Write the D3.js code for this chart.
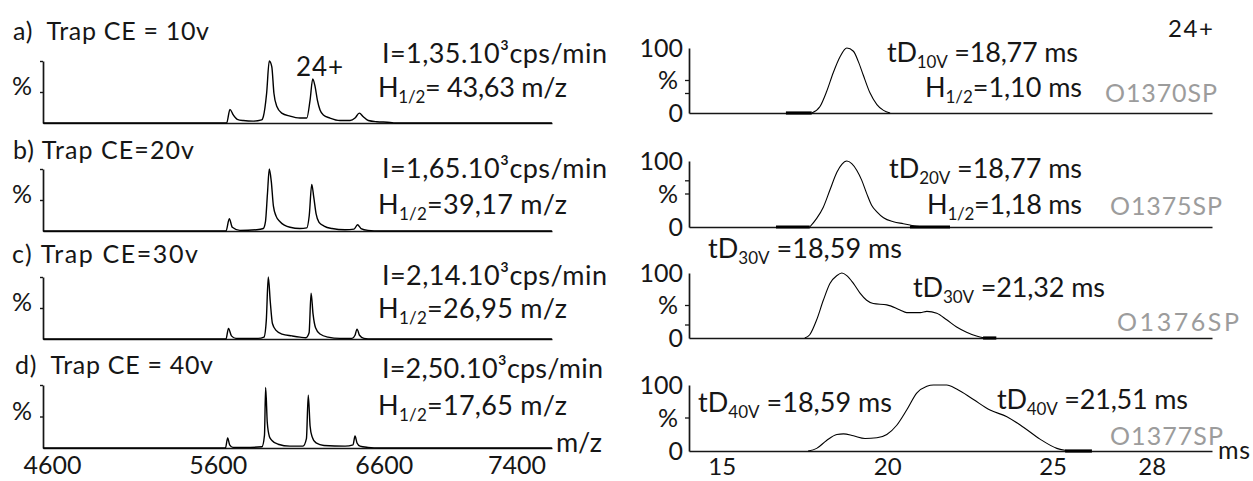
<!DOCTYPE html>
<html><head><meta charset="utf-8">
<script src="https://cdn.jsdelivr.net/npm/d3@7"></script>
<style>
html,body{margin:0;padding:0;background:#fff;}
svg{display:block;font-family:Lato,"Open Sans",sans-serif;}
text{white-space:pre;}
</style></head><body>
<svg id="chart" width="1253" height="481"></svg>
<script>
// ---------- DATA ----------
const ceTitles = ["a)  Trap CE = 10v", "b) Trap CE=20v", "c) Trap CE=30v", "d)  Trap CE = 40v"];
const intensities = ["1,35", "1,65", "2,14", "2,50"];           // x10^3 cps/min
const fwhmMz = ["= 43,63 m/z", "=39,17 m/z", "=26,95 m/z", "=17,65 m/z"];
const mzTicks = [4600, 5600, 6600, 7400];
const driftTicks = [15, 20, 25, 28];
const runIds = ["O1370SP", "O1375SP", "O1376SP", "O1377SP"];
const driftSubs = [["10V"], ["20V"], ["30V", "30V"], ["40V", "40V"]];
const driftValues = [["18,77"], ["18,77"], ["18,59", "21,32"], ["18,59", "21,51"]];
const fwhmDrift = ["1,10", "1,18"];

// mass spectra [m/z, %]
const spectrumA = [[4546,0],[5653,0],[5673,22],[5693,13],[5717,6],[5753,4],[5814,3],[5864,5],[5874,10],[5894,48],[5910,100],[5925,91],[5938,48],[5955,27],[5985,16],[6035,11],[6095,8],[6136,8],[6156,37],[6172,71],[6186,59],[6200,37],[6216,21],[6236,13],[6276,8],[6336,4],[6397,4],[6427,8],[6453,16],[6477,10],[6507,4],[6558,2],[6638,1],[6668,0],[7614,0]];
const spectrumB = [[4546,0],[5649,0],[5669,20],[5687,6],[5733,1],[5834,2],[5874,4],[5887,15],[5899,60],[5910,100],[5922,80],[5935,40],[5951,24],[5975,15],[6035,6],[6095,4],[6136,5],[6151,25],[6166,75],[6178,55],[6192,28],[6210,14],[6240,8],[6288,4],[6367,2],[6421,3],[6442,10],[6463,4],[6505,1],[6578,0],[7614,0]];
const spectrumC = [[4546,0],[5649,0],[5664,17],[5682,5],[5709,1],[5842,1],[5878,3],[5892,30],[5904,100],[5916,60],[5929,25],[5951,14],[5987,8],[6047,5],[6095,3],[6131,2],[6150,10],[6162,74],[6174,40],[6189,18],[6216,8],[6264,3],[6336,1],[6409,1],[6427,6],[6439,16],[6454,6],[6481,1],[6529,0],[7614,0]];
const spectrumD = [[4546,0],[5646,0],[5659,16],[5671,5],[5691,1],[5794,1],[5866,2],[5881,20],[5888,96],[5898,40],[5911,18],[5926,12],[5963,6],[6035,3],[6113,3],[6134,15],[6145,84],[6156,35],[6168,18],[6192,8],[6240,4],[6367,3],[6415,5],[6427,19],[6439,8],[6457,3],[6505,1],[6578,0],[7614,0]];

// arrival time distributions [ms, %]
const driftA = [[17.72,0],[17.97,10],[18.17,33],[18.37,62],[18.58,87],[18.78,100],[18.98,95],[19.13,79],[19.28,58],[19.48,31],[19.69,13],[19.89,4],[20.09,0]];
const driftB = [[17.66,0],[17.87,13],[18.07,30],[18.27,56],[18.48,83],[18.63,95],[18.78,100],[18.93,96],[19.08,86],[19.23,71],[19.38,51],[19.53,33],[19.69,23],[19.89,14],[20.19,8],[20.49,5],[20.69,3],[20.9,1],[21.1,0]];
const driftC = [[17.51,0],[17.66,5],[17.87,28],[18.07,58],[18.27,84],[18.48,96],[18.63,100],[18.78,96],[18.98,84],[19.18,69],[19.38,58],[19.58,53],[19.99,51],[20.39,43],[20.59,39],[21.0,39],[21.2,41],[21.5,38],[21.8,28],[22.1,17],[22.4,9],[22.7,3],[22.95,0]];
const driftD = [[17.61,0],[17.87,4],[18.17,16],[18.48,25],[18.68,26],[18.98,23],[19.33,19],[19.69,20],[19.99,25],[20.29,39],[20.59,62],[20.9,88],[21.2,98],[21.4,100],[21.8,100],[22.1,94],[22.61,78],[23.11,62],[23.62,52],[24.12,36],[24.62,18],[25.13,4],[25.38,1],[25.5,0]];
const noiseSegments = [[[16.94,17.72]], [[16.64,17.66],[20.69,21.9]], [[22.9,23.3]], [[25.38,26.19]]];

// ---------- LAYOUT ----------
const svg = d3.select("#chart");
const INK = "#161616", GRAY = "#9c9c9c";
const spectra = [spectrumA, spectrumB, spectrumC, spectrumD];
const drifts = [driftA, driftB, driftC, driftD];

const xMz = d3.scaleLinear().domain([4545.6, 7614.7]).range([43, 552]);
const xMs = d3.scaleLinear().domain([14.01, 29.82]).range([689, 1212]);

const leftTop = [61, 169, 277, 385], leftBase = [123, 231, 339, 448];
const rightTop = [48, 161, 273, 385], rightBase = [113, 227, 338, 451];
const rightMinor = [30, 70, 20, null];

const titlePos = [[13,40,196],[13,159,181],[12,263,186],[15,374,198]];
const iPos = [[382,63,225],[382,178,225],[382,285,225],[382,378,221]];
const hPos = [[378,97,189],[378,214,189],[378,318,189],[378,415,189]];
const tdPos = [[[887,62,191]], [[889,178,193]], [[708,258,194],[913,297,192]], [[698,412,194],[997,409,191]]];
const hDriftPos = [[925,97,157],[927,214,155]];
const runPos = [[1105,102,112],[1110,215,112],[1117,331,122],[1110,445,113]];

function rich(x, y, parts, size, width, fill) {
  const t = svg.append("text").attr("x", x).attr("y", y)
    .attr("font-size", size).attr("fill", fill || INK);
  let shift = 0;
  parts.forEach(p => {
    const target = p.sub ? 6 : 0;
    t.append("tspan").attr("dy", target - shift)
      .attr("font-size", p.sub ? 17 : null).text(p.t);
    shift = target;
  });
  if (width) t.attr("textLength", width).attr("lengthAdjust", "spacing");
  return t;
}

function styleAxis(g, size) {
  g.attr("font-family", null).attr("font-size", null);
  g.select(".domain").attr("stroke", INK).attr("stroke-width", 1.7);
  g.selectAll(".tick line").attr("stroke", INK).attr("stroke-width", 1.4);
  g.selectAll(".tick text").attr("fill", INK).attr("font-size", size);
}

const line = d3.line().curve(d3.curveMonotoneX);

for (let i = 0; i < 4; i++) {
  // ----- left: mass spectrum -----
  const y = d3.scaleLinear().domain([0, 100]).range([leftBase[i], leftTop[i]]);
  const gx = svg.append("g").attr("transform", `translate(0,${leftBase[i]})`)
    .call(d3.axisBottom(xMz).tickValues(i === 3 ? mzTicks : []).tickFormat(d3.format("d"))
      .tickSize(0).tickSizeOuter(0).tickPadding(8));
  styleAxis(gx, 25);
  const gy = svg.append("g").attr("transform", "translate(43,0)")
    .call(d3.axisLeft(y).tickValues([50, 100]).tickSize(3).tickSizeOuter(0).tickPadding(8)
      .tickFormat(d => d === 50 ? "%" : ""));
  styleAxis(gy, 25);
  gy.selectAll(".tick text").attr("dy", "0.1em");

  svg.append("path").datum(spectra[i])
    .attr("d", line.x(d => xMz(d[0])).y(d => y(d[1])))
    .attr("fill", "none").attr("stroke", "#000").attr("stroke-width", 1.4);

  rich(titlePos[i][0], titlePos[i][1], [{t: ceTitles[i]}], 25, titlePos[i][2]);
  rich(iPos[i][0], iPos[i][1], [{t: "I=" + intensities[i] + ".10³cps/min"}], 27, iPos[i][2]);
  rich(hPos[i][0], hPos[i][1], [{t: "H"}, {t: "1/2", sub: true}, {t: fwhmMz[i]}], 27, hPos[i][2]);

  // ----- right: drift time distribution -----
  const yr = d3.scaleLinear().domain([0, 100]).range([rightBase[i], rightTop[i]]);
  const rx = svg.append("g").attr("transform", `translate(0,${rightBase[i]})`)
    .call(d3.axisBottom(xMs).tickValues(i === 3 ? driftTicks : []).tickFormat(d3.format("d"))
      .tickSize(0).tickSizeOuter(0).tickPadding(7));
  styleAxis(rx, 24);
  const ry = svg.append("g").attr("transform", "translate(689,0)")
    .call(d3.axisLeft(yr).tickValues([0, 50, 100]).tickSize(0).tickSizeOuter(0).tickPadding(6)
      .tickFormat(d => d === 50 ? "%" : d));
  styleAxis(ry, 25);
  ry.selectAll(".tick text").filter(d => d === 50).attr("x", -11);
  const minor = [50].concat(rightMinor[i] === null ? [] : [rightMinor[i]]);
  svg.append("g").selectAll("line").data(minor).join("line")
    .attr("x1", 685).attr("x2", 689).attr("y1", d => yr(d)).attr("y2", d => yr(d))
    .attr("stroke", INK).attr("stroke-width", 1.3);

  svg.append("g").selectAll("line").data(noiseSegments[i]).join("line")
    .attr("x1", d => xMs(d[0])).attr("x2", d => xMs(d[1]))
    .attr("y1", yr(0)).attr("y2", yr(0))
    .attr("stroke", "#000").attr("stroke-width", 3.2);

  svg.append("path").datum(drifts[i])
    .attr("d", line.x(d => xMs(d[0])).y(d => yr(d[1])))
    .attr("fill", "none").attr("stroke", "#000").attr("stroke-width", 1.1);

  driftValues[i].forEach((v, j) => {
    const p = tdPos[i][j];
    rich(p[0], p[1], [{t: "tD"}, {t: driftSubs[i][j], sub: true}, {t: " =" + v + " ms"}], 27, p[2]);
  });
  if (fwhmDrift[i]) {
    const p = hDriftPos[i];
    rich(p[0], p[1], [{t: "H"}, {t: "1/2", sub: true}, {t: "=" + fwhmDrift[i] + " ms"}], 27, p[2]);
  }
  rich(runPos[i][0], runPos[i][1], [{t: runIds[i]}], 25, runPos[i][2], GRAY);
}

// charge state and axis units
rich(296, 76, [{t: "24+"}], 26, 47);
rich(1168, 37, [{t: "24+"}], 24, 45);
rich(556, 452, [{t: "m/z"}], 27, 46);
rich(1218, 459, [{t: "ms"}], 25, 32);
</script>
</body></html>
